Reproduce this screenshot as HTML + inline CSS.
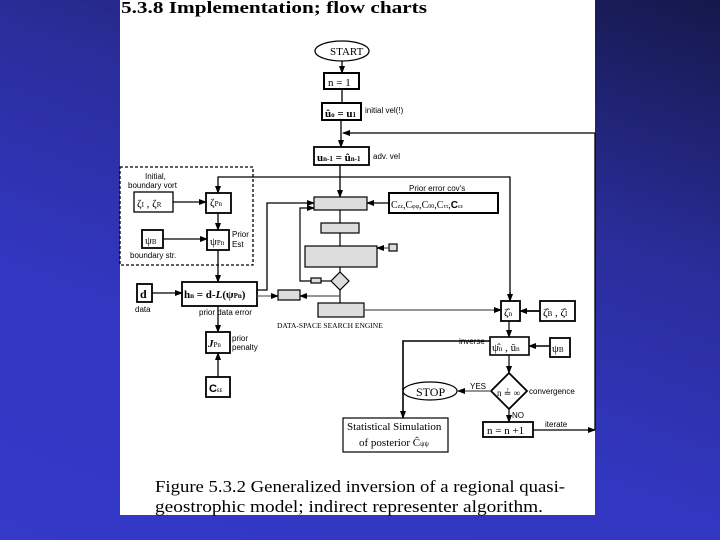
<!DOCTYPE html>
<html><head><meta charset="utf-8"><style>
html,body{margin:0;padding:0;width:720px;height:540px;overflow:hidden}
body{background:linear-gradient(200deg,#15184a 0%,#2a2d9a 35%,#3236c0 65%,#3538c8 100%);position:relative}
svg{position:absolute;left:0;top:0}
</style></head><body>
<svg width="720" height="540" viewBox="0 0 720 540" xmlns="http://www.w3.org/2000/svg" font-family="Liberation Sans, sans-serif">
<defs><marker id="a" markerWidth="8" markerHeight="6" refX="7" refY="3" orient="auto" markerUnits="userSpaceOnUse"><path d="M0,0 L8,3 L0,6 z" fill="#000"/></marker></defs>
<rect x="120" y="0" width="475" height="515" fill="#fff"/>
<text x="121" y="13" font-family="Liberation Serif, serif" font-weight="bold" font-size="17" textLength="306" lengthAdjust="spacingAndGlyphs">5.3.8  Implementation; flow charts</text>
<g stroke="#000" stroke-width="1.3" fill="none">
<ellipse cx="342" cy="51" rx="27" ry="10"/>
<line x1="342" y1="61" x2="342" y2="73" marker-end="url(#a)"/>
<rect x="324" y="73" width="35" height="16" stroke-width="2"/>
<line x1="342" y1="89" x2="342" y2="103"/>
<rect x="322" y="103" width="39" height="17" stroke-width="2"/>
<line x1="341" y1="120" x2="341" y2="147" marker-end="url(#a)"/>
<line x1="595" y1="133" x2="343" y2="133" marker-end="url(#a)"/>
<line x1="595" y1="133" x2="595" y2="430"/>
<rect x="314" y="147" width="55" height="18" stroke-width="1.8"/>
<line x1="340" y1="165" x2="340" y2="197" marker-end="url(#a)"/>
<rect x="120" y="167" width="133" height="98" stroke-dasharray="3,2"/>
<polyline points="218,193 218,177 510,177 510,301" />
<line x1="218" y1="186" x2="218" y2="193" marker-end="url(#a)"/>
<line x1="510" y1="292" x2="510" y2="301" marker-end="url(#a)"/>
<rect x="134" y="192" width="39" height="20"/>
<line x1="173" y1="202" x2="206" y2="202" marker-end="url(#a)"/>
<rect x="206" y="193" width="25" height="20" stroke-width="1.8"/>
<line x1="218" y1="213" x2="218" y2="230" marker-end="url(#a)"/>
<rect x="142" y="230" width="21" height="18" stroke-width="1.8"/>
<line x1="163" y1="239" x2="207" y2="239" marker-end="url(#a)"/>
<rect x="207" y="230" width="22" height="20" stroke-width="1.8"/>
<line x1="218" y1="250" x2="218" y2="282" marker-end="url(#a)"/>
<rect x="137" y="284" width="15" height="18" stroke-width="1.8"/>
<line x1="152" y1="293" x2="182" y2="293" marker-end="url(#a)"/>
<rect x="182" y="282" width="75" height="24" stroke-width="1.8"/>
<line x1="257" y1="296" x2="278" y2="296" stroke="#666" marker-end="url(#a)"/>
<polyline points="257,290 267,290 267,203 314,203" marker-end="url(#a)"/>
<line x1="218" y1="306" x2="218" y2="332" marker-end="url(#a)"/>
<rect x="206" y="332" width="24" height="21" stroke-width="1.8"/>
<line x1="218" y1="377" x2="218" y2="353" marker-end="url(#a)"/>
<rect x="206" y="377" width="24" height="20" stroke-width="1.8"/>
<rect x="389" y="193" width="109" height="20" stroke-width="2"/>
<line x1="389" y1="203" x2="367" y2="203" marker-end="url(#a)"/>
</g>
<g stroke="#000" stroke-width="1.2" fill="#ddd">
<rect x="314" y="197" width="53" height="13"/>
<rect x="321" y="223" width="38" height="10"/>
<rect x="305" y="246" width="72" height="21"/>
<rect x="389" y="244" width="8" height="7"/>
<polygon points="340,272 349,281 340,290 331,281"/>
<rect x="311" y="278" width="10" height="5"/>
<rect x="278" y="290" width="22" height="10"/>
<rect x="318" y="303" width="46" height="14"/>
</g>
<g stroke="#000" stroke-width="1.2" fill="none">
<line x1="340" y1="210" x2="340" y2="223"/>
<line x1="340" y1="233" x2="340" y2="246"/>
<line x1="340" y1="267" x2="340" y2="272"/>
<line x1="389" y1="248" x2="377" y2="248" stroke="#555" marker-end="url(#a)"/>
<polyline points="331,281 321,281"/>
<polyline points="311,281 300,281 300,208 314,208" marker-end="url(#a)"/>
<line x1="340" y1="290" x2="340" y2="303"/>
<line x1="340" y1="296" x2="300" y2="296" stroke="#555" marker-end="url(#a)"/>
<line x1="364" y1="310" x2="501" y2="310" stroke="#555" marker-end="url(#a)"/>
<rect x="501" y="301" width="19" height="20" stroke-width="1.8"/>
<rect x="540" y="301" width="35" height="20" stroke-width="1.8"/>
<line x1="540" y1="311" x2="520" y2="311" marker-end="url(#a)" stroke-width="1.8"/>
<line x1="509" y1="321" x2="509" y2="337" marker-end="url(#a)"/>
<rect x="490" y="337" width="39" height="18" stroke-width="1.6"/>
<rect x="550" y="338" width="20" height="19" stroke-width="1.8"/>
<line x1="550" y1="346" x2="529" y2="346" marker-end="url(#a)" stroke-width="1.6"/>
<polyline points="490,341 403,341 403,418" marker-end="url(#a)" stroke-width="1.6"/>
<line x1="509" y1="355" x2="509" y2="373" marker-end="url(#a)"/>
<polygon points="509,373 527,391 509,409 491,391" stroke-width="1.8"/>
<line x1="491" y1="391" x2="458" y2="391" stroke="#555" marker-end="url(#a)"/>
<ellipse cx="430" cy="391" rx="27" ry="9"/>
<line x1="509" y1="409" x2="509" y2="422" marker-end="url(#a)"/>
<rect x="483" y="422" width="50" height="15" stroke-width="1.8"/>
<line x1="533" y1="430" x2="595" y2="430" marker-end="url(#a)"/>
<rect x="343" y="418" width="105" height="34"/>
</g>
<g font-family="Liberation Serif, serif" font-size="11" fill="#000">
<text x="330" y="55">START</text>
<text x="328" y="86">n = 1</text>
<text x="325" y="117" font-weight="bold">û<tspan font-size="7">o</tspan> = u<tspan font-size="7">1</tspan></text>
<text x="317" y="161" font-weight="bold">u<tspan font-size="7">n-1</tspan> = û<tspan font-size="7">n-1</tspan></text>
<text x="137" y="207">ζ<tspan font-size="7">I</tspan> , ζ<tspan font-size="7">R</tspan></text>
<text x="210" y="206">ζ<tspan font-size="7">Pn</tspan></text>
<text x="145" y="244">ψ<tspan font-size="7">B</tspan></text>
<text x="210" y="245">ψ<tspan font-size="7">Pn</tspan></text>
<text x="140" y="298" font-weight="bold" font-size="12">d</text>
<text x="184" y="298" font-weight="bold">h<tspan font-size="7">n</tspan> = d-<tspan font-style="italic">L</tspan>(ψ<tspan font-size="7">Pn</tspan>)</text>
<text x="208" y="347" font-style="italic" font-weight="bold">J<tspan font-size="7" font-style="normal" font-weight="normal">Pn</tspan></text>
<text x="209" y="392" font-family="Liberation Sans, sans-serif" font-weight="bold">C<tspan font-size="6" font-weight="normal">εε</tspan></text>
<text x="391" y="208" font-size="10">C<tspan font-size="6">zz</tspan>,C<tspan font-size="6">φφ</tspan>,C<tspan font-size="6">00</tspan>,C<tspan font-size="6">ττ</tspan>,<tspan font-family="Liberation Sans, sans-serif" font-weight="bold">C</tspan><tspan font-size="6">εε</tspan></text>
<text x="504" y="316">ζ̂<tspan font-size="7">n</tspan></text>
<text x="543" y="316">ζ̂<tspan font-size="7">B</tspan> , ζ̂<tspan font-size="7">I</tspan></text>
<text x="492" y="351">ψ̂<tspan font-size="7">n</tspan> , û<tspan font-size="7">n</tspan></text>
<text x="552" y="352">ψ<tspan font-size="7">B</tspan></text>
<text x="497" y="396" font-size="9">n ≟ ∞</text>
<text x="416" y="396" font-size="12">STOP</text>
<text x="487" y="434">n = n +1</text>
<text x="347" y="430" font-size="11">Statistical Simulation</text>
<text x="359" y="446" font-size="11">of posterior  Ĉ<tspan font-size="7">ψψ</tspan></text>
<text x="277" y="328" font-size="7.5">DATA-SPACE SEARCH ENGINE</text>
</g>
<g font-size="8" fill="#000">
<text x="365" y="113">initial vel(!)</text>
<text x="373" y="159">adv. vel</text>
<text x="145" y="179">Initial,</text>
<text x="128" y="188">boundary vort</text>
<text x="232" y="237">Prior</text>
<text x="232" y="247">Est</text>
<text x="130" y="258">boundary str.</text>
<text x="135" y="312">data</text>
<text x="199" y="315">prior data error</text>
<text x="232" y="341">prior</text>
<text x="232" y="350">penalty</text>
<text x="409" y="191">Prior error cov's</text>
<text x="459" y="344">inverse</text>
<text x="470" y="389">YES</text>
<text x="529" y="394">convergence</text>
<text x="512" y="418">NO</text>
<text x="545" y="427">iterate</text>
</g>
<g font-family="Liberation Serif, serif" font-size="17" fill="#000">
<text x="155" y="492" textLength="410" lengthAdjust="spacingAndGlyphs">Figure 5.3.2  Generalized inversion of a regional quasi-</text>
<text x="155" y="512" textLength="388" lengthAdjust="spacingAndGlyphs">geostrophic model; indirect representer algorithm.</text>
</g>
</svg>
</body></html>
